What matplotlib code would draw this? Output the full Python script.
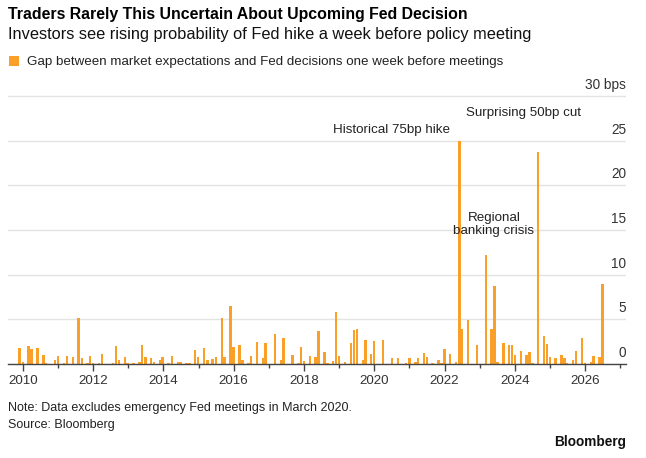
import matplotlib
matplotlib.use("Agg")
import matplotlib.pyplot as plt
from matplotlib.patches import Patch
import matplotlib.transforms as mtransforms

# ---- data (decimal year of meeting, gap in bps) ----
meeting_years = [
    2009.91, 2010.00, 2010.16, 2010.25, 2010.42, 2010.59, 2010.66, 2010.91,
    2011.00, 2011.17, 2011.26, 2011.43, 2011.59, 2011.68, 2011.84, 2011.92,
    2012.00, 2012.17, 2012.26, 2012.57, 2012.65, 2012.73, 2012.90, 2012.98,
    2013.15, 2013.32, 2013.40, 2013.49, 2013.65, 2013.73, 2013.90, 2013.98,
    2014.15, 2014.24, 2014.41, 2014.49, 2014.66, 2014.74, 2014.90, 2014.99,
    2015.16, 2015.25, 2015.40, 2015.49, 2015.67, 2015.74, 2015.91, 2016.00,
    2016.17, 2016.25, 2016.42, 2016.50, 2016.67, 2016.84, 2016.91, 2017.09,
    2017.17, 2017.34, 2017.42, 2017.67, 2017.84, 2017.92, 2018.00, 2018.17,
    2018.33, 2018.41, 2018.58, 2018.67, 2018.83, 2018.91, 2019.00, 2019.16,
    2019.33, 2019.42, 2019.50, 2019.67, 2019.75, 2019.91, 2020.00, 2020.25,
    2020.50, 2020.67, 2020.91, 2021.00, 2021.17, 2021.25, 2021.41, 2021.50,
    2021.66, 2021.83, 2021.91, 2022.00, 2022.16, 2022.33, 2022.42, 2022.50,
    2022.67, 2022.84, 2022.92, 2023.09, 2023.17, 2023.33, 2023.42, 2023.50,
    2023.68, 2023.84, 2023.92, 2024.00, 2024.17, 2024.33, 2024.41, 2024.50,
    2024.66, 2024.82, 2024.91, 2025.00, 2025.16, 2025.32, 2025.41, 2025.49,
    2025.66, 2025.74, 2025.91, 2026.00, 2026.16, 2026.24, 2026.41, 2026.49,
]
gap_bps = [
    1.74, 0.23, 2.05, 1.63, 1.74, 1.00, 0.10, 0.40,
    0.95, 0.15, 0.95, 0.76, 5.10, 0.64, 0.10, 0.95,
    0.10, 0.10, 1.17, 0.15, 2.05, 0.45, 0.76, 0.15,
    0.15, 0.27, 2.08, 0.76, 0.64, 0.27, 0.45, 0.76,
    0.15, 0.95, 0.27, 0.27, 0.10, 0.15, 1.55, 0.76,
    1.78, 0.45, 0.53, 0.76, 5.10, 0.76, 6.55, 1.86,
    2.08, 0.45, 0.10, 0.95, 2.46, 0.64, 2.39, 0.05,
    3.40, 0.45, 2.88, 1.00, 0.10, 1.86, 0.34, 0.95,
    0.76, 3.70, 1.36, 0.10, 0.34, 5.83, 0.95, 0.27,
    2.31, 3.79, 3.90, 0.45, 2.69, 1.17, 2.58, 2.69,
    0.64, 0.64, 0.10, 0.64, 0.27, 0.64, 1.25, 0.83,
    0.10, 0.45, 0.10, 1.67, 1.17, 0.23, 25.0, 3.90,
    4.90, 0.05, 2.16, 0.05, 12.2, 3.90, 8.75, 0.27,
    2.39, 2.08, 2.08, 1.06, 1.48, 1.06, 1.36, 0.15,
    23.7, 3.15, 2.25, 0.76, 0.64, 1.06, 0.64, 0.15,
    0.45, 1.48, 2.95, 0.15, 0.23, 0.87, 0.83, 8.96,
]
y_ticks = [0, 5, 10, 15, 20, 25, 30]
y_tick_labels = ["0", "5", "10", "15", "20", "25", "30 bps"]
x_major_years = [2010, 2012, 2014, 2016, 2018, 2020, 2022, 2024, 2026]
x_minor_years = [2011, 2013, 2015, 2017, 2019, 2021, 2023, 2025, 2027]

annotations = [
    ("Historical 75bp hike", 2022.15, 25.5, "right"),
    ("Surprising 50bp cut", 2024.24, 27.4, "center"),
    ("Regional\nbanking crisis", 2023.40, 14.2, "center"),
]

ORANGE = "#FA9F28"
FONT = "Liberation Sans"
W, H = 646, 458

fig = plt.figure(figsize=(W / 100, H / 100), dpi=100)
plt.rcParams["font.family"] = [FONT, "DejaVu Sans"]

# axes geometry (pixel based)
ax_left, ax_right = 8, 626
y0_px = 364
px_per_bps = 8.93
ytop = 30.5
ax_top_px = y0_px - ytop * px_per_bps
ax = fig.add_axes([ax_left / W, 1 - y0_px / H, (ax_right - ax_left) / W,
                   (y0_px - ax_top_px) / H])

ax.bar(meeting_years, gap_bps, width=0.068, color=ORANGE, linewidth=0, zorder=3)
ax.set_xlim(2009.58, 2027.16)
ax.set_ylim(0, ytop)

for s in ["top", "right", "left"]:
    ax.spines[s].set_visible(False)
ax.spines["bottom"].set_color("#444444")
ax.spines["bottom"].set_linewidth(1.0)
ax.spines["bottom"].set_zorder(4)

ax.set_yticks(y_ticks)
ax.tick_params(axis="y", length=0, labelleft=False)
ax.grid(axis="y", color="#e3e3e3", linewidth=1.0, zorder=0)

trans = mtransforms.blended_transform_factory(ax.transAxes, ax.transData)
for v, lab in zip(y_ticks, y_tick_labels):
    ax.text(1.0, v + 0.45, lab, transform=trans, ha="right", va="bottom",
            fontsize=9.8, color="#333333")

ax.set_xticks(x_major_years)
ax.set_xticklabels([str(y) for y in x_major_years])
ax.set_xticks(x_minor_years, minor=True)
ax.tick_params(axis="x", which="major", length=5, width=1, color="#444444",
               labelsize=9.6, labelcolor="#333333", pad=3)
ax.tick_params(axis="x", which="minor", length=3, width=1, color="#444444")

for text, x, y, ha in annotations:
    ax.text(x, y, text, ha=ha, va="bottom", fontsize=9.6, color="#222222",
            linespacing=1.15)

def fy(py):
    return 1 - py / H

fig.text(8 / W, fy(15), "Traders Rarely This Uncertain About Upcoming Fed Decision",
         fontsize=11.45, fontweight="bold", color="#000000", va="center", ha="left")
fig.text(8 / W, fy(35), "Investors see rising probability of Fed hike a week before policy meeting",
         fontsize=11.75, color="#111111", va="center", ha="left")

fig.legend(handles=[Patch(facecolor=ORANGE, edgecolor="none",
                          label="Gap between market expectations and Fed decisions one week before meetings")],
           loc="center left", bbox_to_anchor=(6.5 / W, fy(62)), frameon=False,
           handlelength=0.75, handleheight=0.75, handletextpad=0.6,
           fontsize=9.65, labelcolor="#222222", borderaxespad=0, borderpad=0.2)

fig.text(8 / W, fy(408), "Note: Data excludes emergency Fed meetings in March 2020.",
         fontsize=9.0, color="#222222", va="center", ha="left")
fig.text(8 / W, fy(425), "Source: Bloomberg",
         fontsize=9.0, color="#222222", va="center", ha="left")
fig.text(626 / W, fy(442), "Bloomberg", fontsize=9.8, fontweight="bold",
         color="#111111", va="center", ha="right")

fig.savefig("out.png", dpi=100)
